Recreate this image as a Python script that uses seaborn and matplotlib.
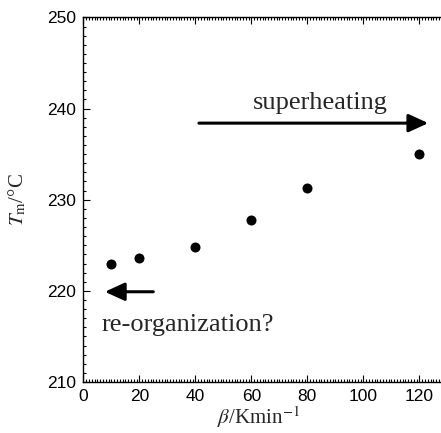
import matplotlib
matplotlib.use('Agg')
import matplotlib.pyplot as plt
from matplotlib.ticker import MultipleLocator
import seaborn as sns
import pandas as pd

# heating rate (K/min) and melting peak temperature (deg C)
beta = [10, 20, 40, 60, 80, 120]
tm = [223.0, 223.55, 224.85, 227.8, 231.3, 235.0]

df = pd.DataFrame({'beta': beta, 'Tm': tm})

sns.set_style('ticks')
plt.rcParams['font.family'] = ['Liberation Sans', 'DejaVu Sans']
plt.rcParams['mathtext.fontset'] = 'stix'

fig = plt.figure(figsize=(4.41, 4.33), dpi=100)
ax = fig.add_axes([83.3 / 441, 51 / 433, 364 / 441, 364.6 / 433])

sns.scatterplot(data=df, x='beta', y='Tm', ax=ax, color='black',
                s=52, edgecolor='black', linewidth=0, legend=False)

ax.set_xlim(0, 130)
ax.set_ylim(210, 250)
ax.xaxis.set_major_locator(MultipleLocator(20))
ax.xaxis.set_minor_locator(MultipleLocator(1))
ax.yaxis.set_major_locator(MultipleLocator(10))
ax.yaxis.set_minor_locator(MultipleLocator(1))
ax.tick_params(which='both', direction='in', top=True, right=False,
               width=0.8, colors='black', labelsize=12.5)
ax.tick_params(which='major', length=5, pad=5)
ax.tick_params(which='minor', length=2.2)
for sp in ax.spines.values():
    sp.set_linewidth(1.0)
    sp.set_color('black')
    sp.set_visible(True)

serif = ['Liberation Serif', 'DejaVu Serif']
ax.set_xlabel(r'$\beta$/Kmin$^{-1}$', fontsize=15, family=serif)
ax.set_ylabel(r'$T_\mathrm{m}$/°C', fontsize=15, family=serif)
ax.xaxis.set_label_coords((258 - 83.3) / 364, -0.062)
ax.yaxis.set_label_coords(-0.152, 0.5)

arrow = dict(arrowstyle='-|>,head_length=1.2,head_width=0.55', lw=2.2,
             color='black', shrinkA=0, shrinkB=0, mutation_scale=10)
ax.annotate('', xy=(123.2, 238.4), xytext=(41.3, 238.4), arrowprops=arrow)
ax.annotate('', xy=(7.7, 219.9), xytext=(25, 219.9), arrowprops=arrow)
ax.text(60.7, 239.9, 'superheating', fontsize=19, family=serif,
        va='baseline', ha='left')
ax.text(6.6, 215.6, 're-organization?', fontsize=19, family=serif,
        va='baseline', ha='left')

fig.savefig('out.png', dpi=100)
